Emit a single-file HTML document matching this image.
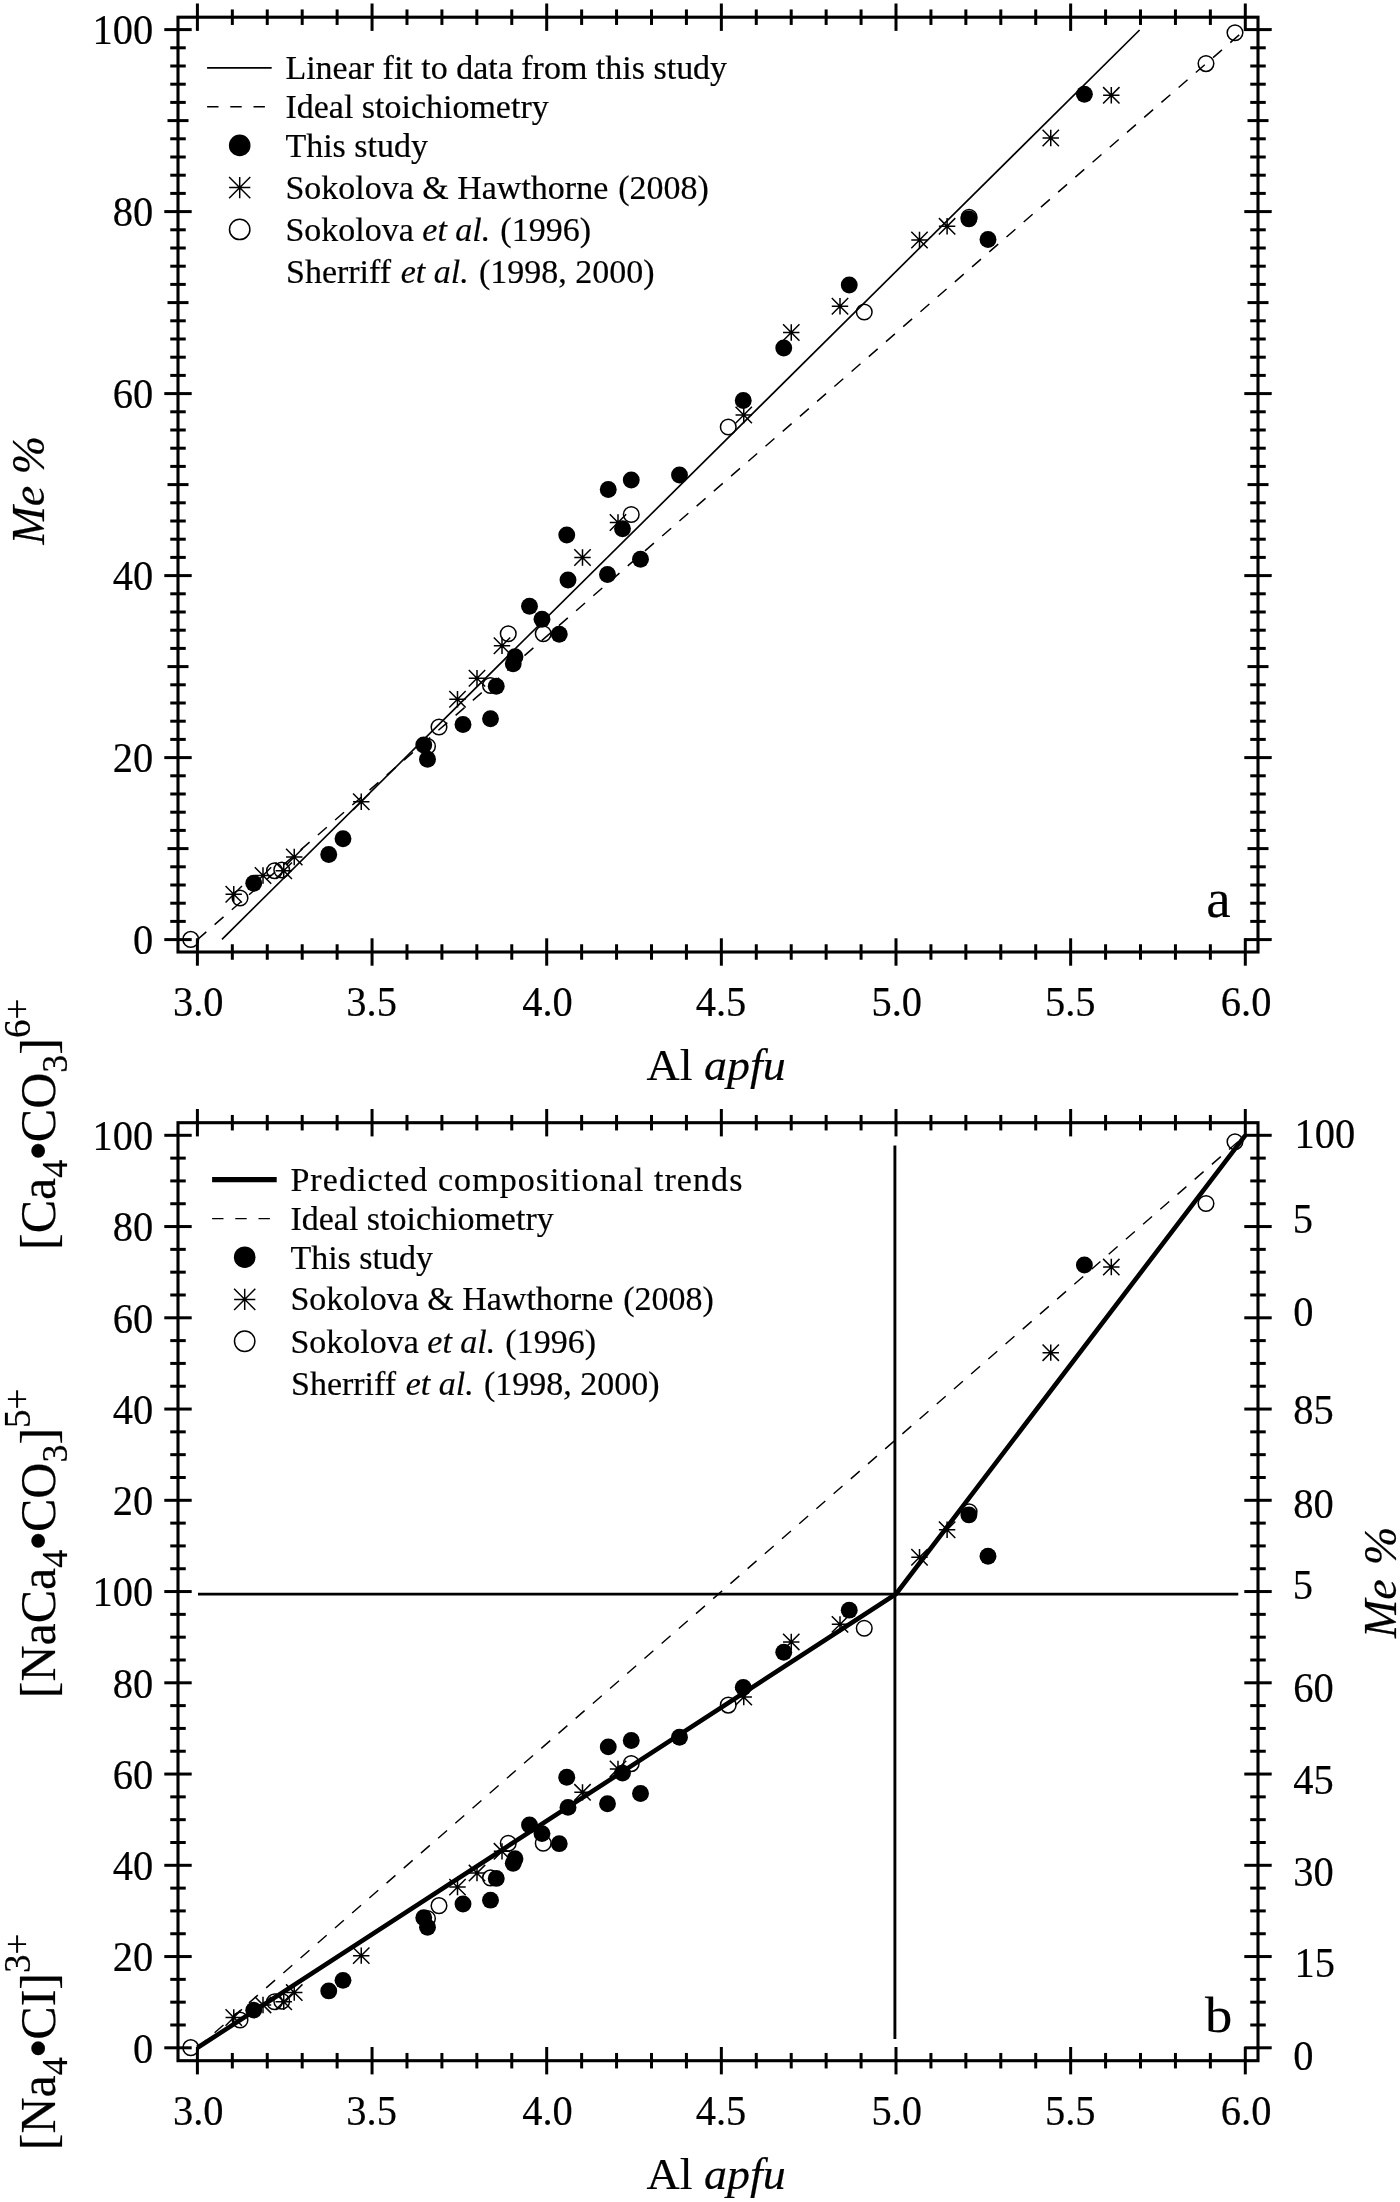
<!DOCTYPE html>
<html><head><meta charset="utf-8"><title>Me % vs Al apfu</title>
<style>
html,body{margin:0;padding:0;background:#fff;}
body{width:1400px;height:2202px;overflow:hidden;font-family:"Liberation Serif",serif;}
svg{display:block;will-change:transform;}
svg text{font-family:"Liberation Serif",serif;fill:#000;stroke:#000;stroke-width:0.2px;stroke-linejoin:round;}
</style></head><body>
<svg width="1400" height="2202" viewBox="0 0 1400 2202" stroke="#000" stroke-linecap="butt">
<rect x="178.0" y="17.2" width="1080.0" height="934.8" fill="none" stroke-width="3.1"/>
<line x1="197.40" y1="3.50" x2="197.40" y2="30.90" stroke-width="3.0" />
<line x1="197.40" y1="938.30" x2="197.40" y2="965.70" stroke-width="3.0" />
<line x1="232.33" y1="9.45" x2="232.33" y2="24.95" stroke-width="3.0" />
<line x1="232.33" y1="944.25" x2="232.33" y2="959.75" stroke-width="3.0" />
<line x1="267.26" y1="9.45" x2="267.26" y2="24.95" stroke-width="3.0" />
<line x1="267.26" y1="944.25" x2="267.26" y2="959.75" stroke-width="3.0" />
<line x1="302.19" y1="9.45" x2="302.19" y2="24.95" stroke-width="3.0" />
<line x1="302.19" y1="944.25" x2="302.19" y2="959.75" stroke-width="3.0" />
<line x1="337.12" y1="9.45" x2="337.12" y2="24.95" stroke-width="3.0" />
<line x1="337.12" y1="944.25" x2="337.12" y2="959.75" stroke-width="3.0" />
<line x1="372.05" y1="3.50" x2="372.05" y2="30.90" stroke-width="3.0" />
<line x1="372.05" y1="938.30" x2="372.05" y2="965.70" stroke-width="3.0" />
<line x1="406.98" y1="9.45" x2="406.98" y2="24.95" stroke-width="3.0" />
<line x1="406.98" y1="944.25" x2="406.98" y2="959.75" stroke-width="3.0" />
<line x1="441.91" y1="9.45" x2="441.91" y2="24.95" stroke-width="3.0" />
<line x1="441.91" y1="944.25" x2="441.91" y2="959.75" stroke-width="3.0" />
<line x1="476.84" y1="9.45" x2="476.84" y2="24.95" stroke-width="3.0" />
<line x1="476.84" y1="944.25" x2="476.84" y2="959.75" stroke-width="3.0" />
<line x1="511.77" y1="9.45" x2="511.77" y2="24.95" stroke-width="3.0" />
<line x1="511.77" y1="944.25" x2="511.77" y2="959.75" stroke-width="3.0" />
<line x1="546.70" y1="3.50" x2="546.70" y2="30.90" stroke-width="3.0" />
<line x1="546.70" y1="938.30" x2="546.70" y2="965.70" stroke-width="3.0" />
<line x1="581.63" y1="9.45" x2="581.63" y2="24.95" stroke-width="3.0" />
<line x1="581.63" y1="944.25" x2="581.63" y2="959.75" stroke-width="3.0" />
<line x1="616.56" y1="9.45" x2="616.56" y2="24.95" stroke-width="3.0" />
<line x1="616.56" y1="944.25" x2="616.56" y2="959.75" stroke-width="3.0" />
<line x1="651.49" y1="9.45" x2="651.49" y2="24.95" stroke-width="3.0" />
<line x1="651.49" y1="944.25" x2="651.49" y2="959.75" stroke-width="3.0" />
<line x1="686.42" y1="9.45" x2="686.42" y2="24.95" stroke-width="3.0" />
<line x1="686.42" y1="944.25" x2="686.42" y2="959.75" stroke-width="3.0" />
<line x1="721.35" y1="3.50" x2="721.35" y2="30.90" stroke-width="3.0" />
<line x1="721.35" y1="938.30" x2="721.35" y2="965.70" stroke-width="3.0" />
<line x1="756.28" y1="9.45" x2="756.28" y2="24.95" stroke-width="3.0" />
<line x1="756.28" y1="944.25" x2="756.28" y2="959.75" stroke-width="3.0" />
<line x1="791.21" y1="9.45" x2="791.21" y2="24.95" stroke-width="3.0" />
<line x1="791.21" y1="944.25" x2="791.21" y2="959.75" stroke-width="3.0" />
<line x1="826.14" y1="9.45" x2="826.14" y2="24.95" stroke-width="3.0" />
<line x1="826.14" y1="944.25" x2="826.14" y2="959.75" stroke-width="3.0" />
<line x1="861.07" y1="9.45" x2="861.07" y2="24.95" stroke-width="3.0" />
<line x1="861.07" y1="944.25" x2="861.07" y2="959.75" stroke-width="3.0" />
<line x1="896.00" y1="3.50" x2="896.00" y2="30.90" stroke-width="3.0" />
<line x1="896.00" y1="938.30" x2="896.00" y2="965.70" stroke-width="3.0" />
<line x1="930.93" y1="9.45" x2="930.93" y2="24.95" stroke-width="3.0" />
<line x1="930.93" y1="944.25" x2="930.93" y2="959.75" stroke-width="3.0" />
<line x1="965.86" y1="9.45" x2="965.86" y2="24.95" stroke-width="3.0" />
<line x1="965.86" y1="944.25" x2="965.86" y2="959.75" stroke-width="3.0" />
<line x1="1000.79" y1="9.45" x2="1000.79" y2="24.95" stroke-width="3.0" />
<line x1="1000.79" y1="944.25" x2="1000.79" y2="959.75" stroke-width="3.0" />
<line x1="1035.72" y1="9.45" x2="1035.72" y2="24.95" stroke-width="3.0" />
<line x1="1035.72" y1="944.25" x2="1035.72" y2="959.75" stroke-width="3.0" />
<line x1="1070.65" y1="3.50" x2="1070.65" y2="30.90" stroke-width="3.0" />
<line x1="1070.65" y1="938.30" x2="1070.65" y2="965.70" stroke-width="3.0" />
<line x1="1105.58" y1="9.45" x2="1105.58" y2="24.95" stroke-width="3.0" />
<line x1="1105.58" y1="944.25" x2="1105.58" y2="959.75" stroke-width="3.0" />
<line x1="1140.51" y1="9.45" x2="1140.51" y2="24.95" stroke-width="3.0" />
<line x1="1140.51" y1="944.25" x2="1140.51" y2="959.75" stroke-width="3.0" />
<line x1="1175.44" y1="9.45" x2="1175.44" y2="24.95" stroke-width="3.0" />
<line x1="1175.44" y1="944.25" x2="1175.44" y2="959.75" stroke-width="3.0" />
<line x1="1210.37" y1="9.45" x2="1210.37" y2="24.95" stroke-width="3.0" />
<line x1="1210.37" y1="944.25" x2="1210.37" y2="959.75" stroke-width="3.0" />
<line x1="1245.30" y1="3.50" x2="1245.30" y2="30.90" stroke-width="3.0" />
<line x1="1245.30" y1="938.30" x2="1245.30" y2="965.70" stroke-width="3.0" />
<line x1="164.30" y1="939.60" x2="191.70" y2="939.60" stroke-width="3.0" />
<line x1="1244.30" y1="939.60" x2="1271.70" y2="939.60" stroke-width="3.0" />
<line x1="170.25" y1="921.40" x2="185.75" y2="921.40" stroke-width="3.0" />
<line x1="1250.25" y1="921.40" x2="1265.75" y2="921.40" stroke-width="3.0" />
<line x1="170.25" y1="903.20" x2="185.75" y2="903.20" stroke-width="3.0" />
<line x1="1250.25" y1="903.20" x2="1265.75" y2="903.20" stroke-width="3.0" />
<line x1="170.25" y1="885.00" x2="185.75" y2="885.00" stroke-width="3.0" />
<line x1="1250.25" y1="885.00" x2="1265.75" y2="885.00" stroke-width="3.0" />
<line x1="170.25" y1="866.80" x2="185.75" y2="866.80" stroke-width="3.0" />
<line x1="1250.25" y1="866.80" x2="1265.75" y2="866.80" stroke-width="3.0" />
<line x1="167.50" y1="848.60" x2="188.50" y2="848.60" stroke-width="3.0" />
<line x1="1247.50" y1="848.60" x2="1268.50" y2="848.60" stroke-width="3.0" />
<line x1="170.25" y1="830.40" x2="185.75" y2="830.40" stroke-width="3.0" />
<line x1="1250.25" y1="830.40" x2="1265.75" y2="830.40" stroke-width="3.0" />
<line x1="170.25" y1="812.20" x2="185.75" y2="812.20" stroke-width="3.0" />
<line x1="1250.25" y1="812.20" x2="1265.75" y2="812.20" stroke-width="3.0" />
<line x1="170.25" y1="794.00" x2="185.75" y2="794.00" stroke-width="3.0" />
<line x1="1250.25" y1="794.00" x2="1265.75" y2="794.00" stroke-width="3.0" />
<line x1="170.25" y1="775.80" x2="185.75" y2="775.80" stroke-width="3.0" />
<line x1="1250.25" y1="775.80" x2="1265.75" y2="775.80" stroke-width="3.0" />
<line x1="164.30" y1="757.60" x2="191.70" y2="757.60" stroke-width="3.0" />
<line x1="1244.30" y1="757.60" x2="1271.70" y2="757.60" stroke-width="3.0" />
<line x1="170.25" y1="739.40" x2="185.75" y2="739.40" stroke-width="3.0" />
<line x1="1250.25" y1="739.40" x2="1265.75" y2="739.40" stroke-width="3.0" />
<line x1="170.25" y1="721.20" x2="185.75" y2="721.20" stroke-width="3.0" />
<line x1="1250.25" y1="721.20" x2="1265.75" y2="721.20" stroke-width="3.0" />
<line x1="170.25" y1="703.00" x2="185.75" y2="703.00" stroke-width="3.0" />
<line x1="1250.25" y1="703.00" x2="1265.75" y2="703.00" stroke-width="3.0" />
<line x1="170.25" y1="684.80" x2="185.75" y2="684.80" stroke-width="3.0" />
<line x1="1250.25" y1="684.80" x2="1265.75" y2="684.80" stroke-width="3.0" />
<line x1="167.50" y1="666.60" x2="188.50" y2="666.60" stroke-width="3.0" />
<line x1="1247.50" y1="666.60" x2="1268.50" y2="666.60" stroke-width="3.0" />
<line x1="170.25" y1="648.40" x2="185.75" y2="648.40" stroke-width="3.0" />
<line x1="1250.25" y1="648.40" x2="1265.75" y2="648.40" stroke-width="3.0" />
<line x1="170.25" y1="630.20" x2="185.75" y2="630.20" stroke-width="3.0" />
<line x1="1250.25" y1="630.20" x2="1265.75" y2="630.20" stroke-width="3.0" />
<line x1="170.25" y1="612.00" x2="185.75" y2="612.00" stroke-width="3.0" />
<line x1="1250.25" y1="612.00" x2="1265.75" y2="612.00" stroke-width="3.0" />
<line x1="170.25" y1="593.80" x2="185.75" y2="593.80" stroke-width="3.0" />
<line x1="1250.25" y1="593.80" x2="1265.75" y2="593.80" stroke-width="3.0" />
<line x1="164.30" y1="575.60" x2="191.70" y2="575.60" stroke-width="3.0" />
<line x1="1244.30" y1="575.60" x2="1271.70" y2="575.60" stroke-width="3.0" />
<line x1="170.25" y1="557.40" x2="185.75" y2="557.40" stroke-width="3.0" />
<line x1="1250.25" y1="557.40" x2="1265.75" y2="557.40" stroke-width="3.0" />
<line x1="170.25" y1="539.20" x2="185.75" y2="539.20" stroke-width="3.0" />
<line x1="1250.25" y1="539.20" x2="1265.75" y2="539.20" stroke-width="3.0" />
<line x1="170.25" y1="521.00" x2="185.75" y2="521.00" stroke-width="3.0" />
<line x1="1250.25" y1="521.00" x2="1265.75" y2="521.00" stroke-width="3.0" />
<line x1="170.25" y1="502.80" x2="185.75" y2="502.80" stroke-width="3.0" />
<line x1="1250.25" y1="502.80" x2="1265.75" y2="502.80" stroke-width="3.0" />
<line x1="167.50" y1="484.60" x2="188.50" y2="484.60" stroke-width="3.0" />
<line x1="1247.50" y1="484.60" x2="1268.50" y2="484.60" stroke-width="3.0" />
<line x1="170.25" y1="466.40" x2="185.75" y2="466.40" stroke-width="3.0" />
<line x1="1250.25" y1="466.40" x2="1265.75" y2="466.40" stroke-width="3.0" />
<line x1="170.25" y1="448.20" x2="185.75" y2="448.20" stroke-width="3.0" />
<line x1="1250.25" y1="448.20" x2="1265.75" y2="448.20" stroke-width="3.0" />
<line x1="170.25" y1="430.00" x2="185.75" y2="430.00" stroke-width="3.0" />
<line x1="1250.25" y1="430.00" x2="1265.75" y2="430.00" stroke-width="3.0" />
<line x1="170.25" y1="411.80" x2="185.75" y2="411.80" stroke-width="3.0" />
<line x1="1250.25" y1="411.80" x2="1265.75" y2="411.80" stroke-width="3.0" />
<line x1="164.30" y1="393.60" x2="191.70" y2="393.60" stroke-width="3.0" />
<line x1="1244.30" y1="393.60" x2="1271.70" y2="393.60" stroke-width="3.0" />
<line x1="170.25" y1="375.40" x2="185.75" y2="375.40" stroke-width="3.0" />
<line x1="1250.25" y1="375.40" x2="1265.75" y2="375.40" stroke-width="3.0" />
<line x1="170.25" y1="357.20" x2="185.75" y2="357.20" stroke-width="3.0" />
<line x1="1250.25" y1="357.20" x2="1265.75" y2="357.20" stroke-width="3.0" />
<line x1="170.25" y1="339.00" x2="185.75" y2="339.00" stroke-width="3.0" />
<line x1="1250.25" y1="339.00" x2="1265.75" y2="339.00" stroke-width="3.0" />
<line x1="170.25" y1="320.80" x2="185.75" y2="320.80" stroke-width="3.0" />
<line x1="1250.25" y1="320.80" x2="1265.75" y2="320.80" stroke-width="3.0" />
<line x1="167.50" y1="302.60" x2="188.50" y2="302.60" stroke-width="3.0" />
<line x1="1247.50" y1="302.60" x2="1268.50" y2="302.60" stroke-width="3.0" />
<line x1="170.25" y1="284.40" x2="185.75" y2="284.40" stroke-width="3.0" />
<line x1="1250.25" y1="284.40" x2="1265.75" y2="284.40" stroke-width="3.0" />
<line x1="170.25" y1="266.20" x2="185.75" y2="266.20" stroke-width="3.0" />
<line x1="1250.25" y1="266.20" x2="1265.75" y2="266.20" stroke-width="3.0" />
<line x1="170.25" y1="248.00" x2="185.75" y2="248.00" stroke-width="3.0" />
<line x1="1250.25" y1="248.00" x2="1265.75" y2="248.00" stroke-width="3.0" />
<line x1="170.25" y1="229.80" x2="185.75" y2="229.80" stroke-width="3.0" />
<line x1="1250.25" y1="229.80" x2="1265.75" y2="229.80" stroke-width="3.0" />
<line x1="164.30" y1="211.60" x2="191.70" y2="211.60" stroke-width="3.0" />
<line x1="1244.30" y1="211.60" x2="1271.70" y2="211.60" stroke-width="3.0" />
<line x1="170.25" y1="193.40" x2="185.75" y2="193.40" stroke-width="3.0" />
<line x1="1250.25" y1="193.40" x2="1265.75" y2="193.40" stroke-width="3.0" />
<line x1="170.25" y1="175.20" x2="185.75" y2="175.20" stroke-width="3.0" />
<line x1="1250.25" y1="175.20" x2="1265.75" y2="175.20" stroke-width="3.0" />
<line x1="170.25" y1="157.00" x2="185.75" y2="157.00" stroke-width="3.0" />
<line x1="1250.25" y1="157.00" x2="1265.75" y2="157.00" stroke-width="3.0" />
<line x1="170.25" y1="138.80" x2="185.75" y2="138.80" stroke-width="3.0" />
<line x1="1250.25" y1="138.80" x2="1265.75" y2="138.80" stroke-width="3.0" />
<line x1="167.50" y1="120.60" x2="188.50" y2="120.60" stroke-width="3.0" />
<line x1="1247.50" y1="120.60" x2="1268.50" y2="120.60" stroke-width="3.0" />
<line x1="170.25" y1="102.40" x2="185.75" y2="102.40" stroke-width="3.0" />
<line x1="1250.25" y1="102.40" x2="1265.75" y2="102.40" stroke-width="3.0" />
<line x1="170.25" y1="84.20" x2="185.75" y2="84.20" stroke-width="3.0" />
<line x1="1250.25" y1="84.20" x2="1265.75" y2="84.20" stroke-width="3.0" />
<line x1="170.25" y1="66.00" x2="185.75" y2="66.00" stroke-width="3.0" />
<line x1="1250.25" y1="66.00" x2="1265.75" y2="66.00" stroke-width="3.0" />
<line x1="170.25" y1="47.80" x2="185.75" y2="47.80" stroke-width="3.0" />
<line x1="1250.25" y1="47.80" x2="1265.75" y2="47.80" stroke-width="3.0" />
<line x1="164.30" y1="29.60" x2="191.70" y2="29.60" stroke-width="3.0" />
<line x1="1244.30" y1="29.60" x2="1271.70" y2="29.60" stroke-width="3.0" />
<text transform="translate(153.20,954.40) scale(1,1.045)" font-size="40.5" text-anchor="end" >0</text>
<text transform="translate(153.20,772.40) scale(1,1.045)" font-size="40.5" text-anchor="end" >20</text>
<text transform="translate(153.20,590.40) scale(1,1.045)" font-size="40.5" text-anchor="end" >40</text>
<text transform="translate(153.20,408.40) scale(1,1.045)" font-size="40.5" text-anchor="end" >60</text>
<text transform="translate(153.20,226.40) scale(1,1.045)" font-size="40.5" text-anchor="end" >80</text>
<text transform="translate(153.20,44.40) scale(1,1.045)" font-size="40.5" text-anchor="end" >100</text>
<text transform="translate(198.20,1015.80) scale(1,1.045)" font-size="40.5" text-anchor="middle" >3.0</text>
<text transform="translate(371.65,1015.80) scale(1,1.045)" font-size="40.5" text-anchor="middle" >3.5</text>
<text transform="translate(547.50,1015.80) scale(1,1.045)" font-size="40.5" text-anchor="middle" >4.0</text>
<text transform="translate(720.95,1015.80) scale(1,1.045)" font-size="40.5" text-anchor="middle" >4.5</text>
<text transform="translate(896.80,1015.80) scale(1,1.045)" font-size="40.5" text-anchor="middle" >5.0</text>
<text transform="translate(1070.25,1015.80) scale(1,1.045)" font-size="40.5" text-anchor="middle" >5.5</text>
<text transform="translate(1246.10,1015.80) scale(1,1.045)" font-size="40.5" text-anchor="middle" >6.0</text>
<line x1="222.00" y1="939.40" x2="1139.60" y2="30.00" stroke-width="1.65" />
<line x1="197.40" y1="939.60" x2="1245.30" y2="29.60" stroke-width="1.5" stroke-dasharray="11.8 11" stroke-dashoffset="0"/>
<circle cx="190.75" cy="939.40" r="7.8" fill="none" stroke-width="1.5"/>
<circle cx="240.00" cy="898.00" r="7.8" fill="none" stroke-width="1.5"/>
<circle cx="274.50" cy="870.75" r="7.8" fill="none" stroke-width="1.5"/>
<circle cx="281.75" cy="870.00" r="7.8" fill="none" stroke-width="1.5"/>
<circle cx="427.50" cy="746.25" r="7.8" fill="none" stroke-width="1.5"/>
<circle cx="439.00" cy="727.00" r="7.8" fill="none" stroke-width="1.5"/>
<circle cx="490.50" cy="685.50" r="7.8" fill="none" stroke-width="1.5"/>
<circle cx="508.25" cy="633.75" r="7.8" fill="none" stroke-width="1.5"/>
<circle cx="543.25" cy="633.75" r="7.8" fill="none" stroke-width="1.5"/>
<circle cx="631.25" cy="514.50" r="7.8" fill="none" stroke-width="1.5"/>
<circle cx="728.25" cy="427.00" r="7.8" fill="none" stroke-width="1.5"/>
<circle cx="864.25" cy="312.00" r="7.8" fill="none" stroke-width="1.5"/>
<circle cx="969.10" cy="217.30" r="7.8" fill="none" stroke-width="1.5"/>
<circle cx="1206.00" cy="63.60" r="7.8" fill="none" stroke-width="1.5"/>
<circle cx="1235.00" cy="32.80" r="7.8" fill="none" stroke-width="1.5"/>
<circle cx="253.75" cy="883.25" r="8.45" fill="#000" stroke="none"/>
<circle cx="328.75" cy="854.50" r="8.45" fill="#000" stroke="none"/>
<circle cx="343.00" cy="838.75" r="8.45" fill="#000" stroke="none"/>
<circle cx="423.75" cy="745.00" r="8.45" fill="#000" stroke="none"/>
<circle cx="427.50" cy="759.25" r="8.45" fill="#000" stroke="none"/>
<circle cx="463.00" cy="724.50" r="8.45" fill="#000" stroke="none"/>
<circle cx="490.50" cy="718.75" r="8.45" fill="#000" stroke="none"/>
<circle cx="496.25" cy="686.25" r="8.45" fill="#000" stroke="none"/>
<circle cx="513.25" cy="663.75" r="8.45" fill="#000" stroke="none"/>
<circle cx="515.00" cy="656.75" r="8.45" fill="#000" stroke="none"/>
<circle cx="559.25" cy="634.25" r="8.45" fill="#000" stroke="none"/>
<circle cx="542.00" cy="619.25" r="8.45" fill="#000" stroke="none"/>
<circle cx="529.50" cy="606.25" r="8.45" fill="#000" stroke="none"/>
<circle cx="568.00" cy="580.00" r="8.45" fill="#000" stroke="none"/>
<circle cx="607.50" cy="574.50" r="8.45" fill="#000" stroke="none"/>
<circle cx="640.50" cy="559.25" r="8.45" fill="#000" stroke="none"/>
<circle cx="566.75" cy="535.00" r="8.45" fill="#000" stroke="none"/>
<circle cx="622.50" cy="528.75" r="8.45" fill="#000" stroke="none"/>
<circle cx="608.25" cy="489.50" r="8.45" fill="#000" stroke="none"/>
<circle cx="631.25" cy="480.00" r="8.45" fill="#000" stroke="none"/>
<circle cx="679.50" cy="475.00" r="8.45" fill="#000" stroke="none"/>
<circle cx="743.25" cy="400.50" r="8.45" fill="#000" stroke="none"/>
<circle cx="783.75" cy="348.00" r="8.45" fill="#000" stroke="none"/>
<circle cx="849.25" cy="285.00" r="8.45" fill="#000" stroke="none"/>
<circle cx="968.90" cy="218.90" r="8.45" fill="#000" stroke="none"/>
<circle cx="988.00" cy="239.50" r="8.45" fill="#000" stroke="none"/>
<circle cx="1084.40" cy="94.30" r="8.45" fill="#000" stroke="none"/>
<path d="M225.55 894.25H241.95M233.75 886.05V902.45M225.55 886.05L241.95 902.45M225.55 902.45L241.95 886.05" fill="none" stroke-width="1.5"/>
<path d="M254.80 875.50H271.20M263.00 867.30V883.70M254.80 867.30L271.20 883.70M254.80 883.70L271.20 867.30" fill="none" stroke-width="1.5"/>
<path d="M275.55 870.75H291.95M283.75 862.55V878.95M275.55 862.55L291.95 878.95M275.55 878.95L291.95 862.55" fill="none" stroke-width="1.5"/>
<path d="M286.05 857.00H302.45M294.25 848.80V865.20M286.05 848.80L302.45 865.20M286.05 865.20L302.45 848.80" fill="none" stroke-width="1.5"/>
<path d="M353.05 801.75H369.45M361.25 793.55V809.95M353.05 793.55L369.45 809.95M353.05 809.95L369.45 793.55" fill="none" stroke-width="1.5"/>
<path d="M449.30 699.25H465.70M457.50 691.05V707.45M449.30 691.05L465.70 707.45M449.30 707.45L465.70 691.05" fill="none" stroke-width="1.5"/>
<path d="M468.80 678.25H485.20M477.00 670.05V686.45M468.80 670.05L485.20 686.45M468.80 686.45L485.20 670.05" fill="none" stroke-width="1.5"/>
<path d="M493.80 645.75H510.20M502.00 637.55V653.95M493.80 637.55L510.20 653.95M493.80 653.95L510.20 637.55" fill="none" stroke-width="1.5"/>
<path d="M574.30 557.50H590.70M582.50 549.30V565.70M574.30 549.30L590.70 565.70M574.30 565.70L590.70 549.30" fill="none" stroke-width="1.5"/>
<path d="M609.80 522.50H626.20M618.00 514.30V530.70M609.80 514.30L626.20 530.70M609.80 530.70L626.20 514.30" fill="none" stroke-width="1.5"/>
<path d="M735.55 415.00H751.95M743.75 406.80V423.20M735.55 406.80L751.95 423.20M735.55 423.20L751.95 406.80" fill="none" stroke-width="1.5"/>
<path d="M783.05 332.50H799.45M791.25 324.30V340.70M783.05 324.30L799.45 340.70M783.05 340.70L799.45 324.30" fill="none" stroke-width="1.5"/>
<path d="M831.80 306.25H848.20M840.00 298.05V314.45M831.80 298.05L848.20 314.45M831.80 314.45L848.20 298.05" fill="none" stroke-width="1.5"/>
<path d="M911.30 240.00H927.70M919.50 231.80V248.20M911.30 231.80L927.70 248.20M911.30 248.20L927.70 231.80" fill="none" stroke-width="1.5"/>
<path d="M938.90 226.30H955.30M947.10 218.10V234.50M938.90 218.10L955.30 234.50M938.90 234.50L955.30 218.10" fill="none" stroke-width="1.5"/>
<path d="M1042.55 138.00H1058.95M1050.75 129.80V146.20M1042.55 129.80L1058.95 146.20M1042.55 146.20L1058.95 129.80" fill="none" stroke-width="1.5"/>
<path d="M1103.10 95.30H1119.50M1111.30 87.10V103.50M1103.10 87.10L1119.50 103.50M1103.10 103.50L1119.50 87.10" fill="none" stroke-width="1.5"/>
<line x1="207.10" y1="67.90" x2="271.70" y2="67.90" stroke-width="1.6" />
<line x1="207.10" y1="106.80" x2="272.00" y2="106.80" stroke-width="1.55" stroke-dasharray="11.4 11.8"/>
<circle cx="239.70" cy="145.40" r="10.8" fill="#000" stroke="none"/>
<path d="M229.10 187.60H250.30M239.70 177.00V198.20M229.10 177.00L250.30 198.20M229.10 198.20L250.30 177.00" fill="none" stroke-width="1.5"/>
<circle cx="239.70" cy="229.40" r="10.2" fill="none" stroke-width="1.5"/>
<text transform="translate(285.40,79.00) scale(1,0.96)" font-size="34" text-anchor="start" >Linear fit to data from this study</text>
<text transform="translate(285.40,118.00) scale(1,0.96)" font-size="34" text-anchor="start" >Ideal stoichiometry</text>
<text transform="translate(285.40,156.80) scale(1,0.96)" font-size="34" text-anchor="start" >This study</text>
<text transform="translate(285.40,198.50) scale(1,0.96)" font-size="34" text-anchor="start" >Sokolova &amp; Hawthorne <tspan dx="1.6">(2008)</tspan></text>
<text transform="translate(285.40,240.70) scale(1,0.96)" font-size="34" text-anchor="start" >Sokolova <tspan font-style="italic">et al.</tspan> <tspan dx="1.6">(1996)</tspan></text>
<text transform="translate(286.00,282.80) scale(1,0.96)" font-size="34" text-anchor="start" >Sherriff <tspan font-style="italic" dx="1.2">et al.</tspan> <tspan dx="1.8">(1998, 2000)</tspan></text>
<text x="1206.20" y="916.60" font-size="55" text-anchor="start" >a</text>
<text transform="translate(44.2,544.5) rotate(-90)" font-size="46" font-style="italic">Me %</text>
<text transform="translate(646.50,1079.90) scale(1,0.96)" font-size="46" text-anchor="start" >Al <tspan font-style="italic">apfu</tspan></text>
<rect x="178.0" y="1122.7" width="1080.0" height="937.9999999999998" fill="none" stroke-width="3.1"/>
<line x1="197.40" y1="1109.00" x2="197.40" y2="1136.40" stroke-width="3.0" />
<line x1="197.40" y1="2047.00" x2="197.40" y2="2074.40" stroke-width="3.0" />
<line x1="232.33" y1="1114.95" x2="232.33" y2="1130.45" stroke-width="3.0" />
<line x1="232.33" y1="2052.95" x2="232.33" y2="2068.45" stroke-width="3.0" />
<line x1="267.26" y1="1114.95" x2="267.26" y2="1130.45" stroke-width="3.0" />
<line x1="267.26" y1="2052.95" x2="267.26" y2="2068.45" stroke-width="3.0" />
<line x1="302.19" y1="1114.95" x2="302.19" y2="1130.45" stroke-width="3.0" />
<line x1="302.19" y1="2052.95" x2="302.19" y2="2068.45" stroke-width="3.0" />
<line x1="337.12" y1="1114.95" x2="337.12" y2="1130.45" stroke-width="3.0" />
<line x1="337.12" y1="2052.95" x2="337.12" y2="2068.45" stroke-width="3.0" />
<line x1="372.05" y1="1109.00" x2="372.05" y2="1136.40" stroke-width="3.0" />
<line x1="372.05" y1="2047.00" x2="372.05" y2="2074.40" stroke-width="3.0" />
<line x1="406.98" y1="1114.95" x2="406.98" y2="1130.45" stroke-width="3.0" />
<line x1="406.98" y1="2052.95" x2="406.98" y2="2068.45" stroke-width="3.0" />
<line x1="441.91" y1="1114.95" x2="441.91" y2="1130.45" stroke-width="3.0" />
<line x1="441.91" y1="2052.95" x2="441.91" y2="2068.45" stroke-width="3.0" />
<line x1="476.84" y1="1114.95" x2="476.84" y2="1130.45" stroke-width="3.0" />
<line x1="476.84" y1="2052.95" x2="476.84" y2="2068.45" stroke-width="3.0" />
<line x1="511.77" y1="1114.95" x2="511.77" y2="1130.45" stroke-width="3.0" />
<line x1="511.77" y1="2052.95" x2="511.77" y2="2068.45" stroke-width="3.0" />
<line x1="546.70" y1="1109.00" x2="546.70" y2="1136.40" stroke-width="3.0" />
<line x1="546.70" y1="2047.00" x2="546.70" y2="2074.40" stroke-width="3.0" />
<line x1="581.63" y1="1114.95" x2="581.63" y2="1130.45" stroke-width="3.0" />
<line x1="581.63" y1="2052.95" x2="581.63" y2="2068.45" stroke-width="3.0" />
<line x1="616.56" y1="1114.95" x2="616.56" y2="1130.45" stroke-width="3.0" />
<line x1="616.56" y1="2052.95" x2="616.56" y2="2068.45" stroke-width="3.0" />
<line x1="651.49" y1="1114.95" x2="651.49" y2="1130.45" stroke-width="3.0" />
<line x1="651.49" y1="2052.95" x2="651.49" y2="2068.45" stroke-width="3.0" />
<line x1="686.42" y1="1114.95" x2="686.42" y2="1130.45" stroke-width="3.0" />
<line x1="686.42" y1="2052.95" x2="686.42" y2="2068.45" stroke-width="3.0" />
<line x1="721.35" y1="1109.00" x2="721.35" y2="1136.40" stroke-width="3.0" />
<line x1="721.35" y1="2047.00" x2="721.35" y2="2074.40" stroke-width="3.0" />
<line x1="756.28" y1="1114.95" x2="756.28" y2="1130.45" stroke-width="3.0" />
<line x1="756.28" y1="2052.95" x2="756.28" y2="2068.45" stroke-width="3.0" />
<line x1="791.21" y1="1114.95" x2="791.21" y2="1130.45" stroke-width="3.0" />
<line x1="791.21" y1="2052.95" x2="791.21" y2="2068.45" stroke-width="3.0" />
<line x1="826.14" y1="1114.95" x2="826.14" y2="1130.45" stroke-width="3.0" />
<line x1="826.14" y1="2052.95" x2="826.14" y2="2068.45" stroke-width="3.0" />
<line x1="861.07" y1="1114.95" x2="861.07" y2="1130.45" stroke-width="3.0" />
<line x1="861.07" y1="2052.95" x2="861.07" y2="2068.45" stroke-width="3.0" />
<line x1="896.00" y1="1109.00" x2="896.00" y2="1136.40" stroke-width="3.0" />
<line x1="896.00" y1="2047.00" x2="896.00" y2="2074.40" stroke-width="3.0" />
<line x1="930.93" y1="1114.95" x2="930.93" y2="1130.45" stroke-width="3.0" />
<line x1="930.93" y1="2052.95" x2="930.93" y2="2068.45" stroke-width="3.0" />
<line x1="965.86" y1="1114.95" x2="965.86" y2="1130.45" stroke-width="3.0" />
<line x1="965.86" y1="2052.95" x2="965.86" y2="2068.45" stroke-width="3.0" />
<line x1="1000.79" y1="1114.95" x2="1000.79" y2="1130.45" stroke-width="3.0" />
<line x1="1000.79" y1="2052.95" x2="1000.79" y2="2068.45" stroke-width="3.0" />
<line x1="1035.72" y1="1114.95" x2="1035.72" y2="1130.45" stroke-width="3.0" />
<line x1="1035.72" y1="2052.95" x2="1035.72" y2="2068.45" stroke-width="3.0" />
<line x1="1070.65" y1="1109.00" x2="1070.65" y2="1136.40" stroke-width="3.0" />
<line x1="1070.65" y1="2047.00" x2="1070.65" y2="2074.40" stroke-width="3.0" />
<line x1="1105.58" y1="1114.95" x2="1105.58" y2="1130.45" stroke-width="3.0" />
<line x1="1105.58" y1="2052.95" x2="1105.58" y2="2068.45" stroke-width="3.0" />
<line x1="1140.51" y1="1114.95" x2="1140.51" y2="1130.45" stroke-width="3.0" />
<line x1="1140.51" y1="2052.95" x2="1140.51" y2="2068.45" stroke-width="3.0" />
<line x1="1175.44" y1="1114.95" x2="1175.44" y2="1130.45" stroke-width="3.0" />
<line x1="1175.44" y1="2052.95" x2="1175.44" y2="2068.45" stroke-width="3.0" />
<line x1="1210.37" y1="1114.95" x2="1210.37" y2="1130.45" stroke-width="3.0" />
<line x1="1210.37" y1="2052.95" x2="1210.37" y2="2068.45" stroke-width="3.0" />
<line x1="1245.30" y1="1109.00" x2="1245.30" y2="1136.40" stroke-width="3.0" />
<line x1="1245.30" y1="2047.00" x2="1245.30" y2="2074.40" stroke-width="3.0" />
<line x1="164.30" y1="2047.80" x2="191.70" y2="2047.80" stroke-width="3.0" />
<line x1="1244.30" y1="2047.80" x2="1271.70" y2="2047.80" stroke-width="3.0" />
<line x1="170.25" y1="2024.99" x2="185.75" y2="2024.99" stroke-width="3.0" />
<line x1="1250.25" y1="2024.99" x2="1265.75" y2="2024.99" stroke-width="3.0" />
<line x1="170.25" y1="2002.17" x2="185.75" y2="2002.17" stroke-width="3.0" />
<line x1="1250.25" y1="2002.17" x2="1265.75" y2="2002.17" stroke-width="3.0" />
<line x1="170.25" y1="1979.36" x2="185.75" y2="1979.36" stroke-width="3.0" />
<line x1="1250.25" y1="1979.36" x2="1265.75" y2="1979.36" stroke-width="3.0" />
<line x1="164.30" y1="1956.55" x2="191.70" y2="1956.55" stroke-width="3.0" />
<line x1="1244.30" y1="1956.55" x2="1271.70" y2="1956.55" stroke-width="3.0" />
<line x1="170.25" y1="1933.74" x2="185.75" y2="1933.74" stroke-width="3.0" />
<line x1="1250.25" y1="1933.74" x2="1265.75" y2="1933.74" stroke-width="3.0" />
<line x1="170.25" y1="1910.92" x2="185.75" y2="1910.92" stroke-width="3.0" />
<line x1="1250.25" y1="1910.92" x2="1265.75" y2="1910.92" stroke-width="3.0" />
<line x1="170.25" y1="1888.11" x2="185.75" y2="1888.11" stroke-width="3.0" />
<line x1="1250.25" y1="1888.11" x2="1265.75" y2="1888.11" stroke-width="3.0" />
<line x1="164.30" y1="1865.30" x2="191.70" y2="1865.30" stroke-width="3.0" />
<line x1="1244.30" y1="1865.30" x2="1271.70" y2="1865.30" stroke-width="3.0" />
<line x1="170.25" y1="1842.49" x2="185.75" y2="1842.49" stroke-width="3.0" />
<line x1="1250.25" y1="1842.49" x2="1265.75" y2="1842.49" stroke-width="3.0" />
<line x1="170.25" y1="1819.67" x2="185.75" y2="1819.67" stroke-width="3.0" />
<line x1="1250.25" y1="1819.67" x2="1265.75" y2="1819.67" stroke-width="3.0" />
<line x1="170.25" y1="1796.86" x2="185.75" y2="1796.86" stroke-width="3.0" />
<line x1="1250.25" y1="1796.86" x2="1265.75" y2="1796.86" stroke-width="3.0" />
<line x1="164.30" y1="1774.05" x2="191.70" y2="1774.05" stroke-width="3.0" />
<line x1="1244.30" y1="1774.05" x2="1271.70" y2="1774.05" stroke-width="3.0" />
<line x1="170.25" y1="1751.24" x2="185.75" y2="1751.24" stroke-width="3.0" />
<line x1="1250.25" y1="1751.24" x2="1265.75" y2="1751.24" stroke-width="3.0" />
<line x1="170.25" y1="1728.42" x2="185.75" y2="1728.42" stroke-width="3.0" />
<line x1="1250.25" y1="1728.42" x2="1265.75" y2="1728.42" stroke-width="3.0" />
<line x1="170.25" y1="1705.61" x2="185.75" y2="1705.61" stroke-width="3.0" />
<line x1="1250.25" y1="1705.61" x2="1265.75" y2="1705.61" stroke-width="3.0" />
<line x1="164.30" y1="1682.80" x2="191.70" y2="1682.80" stroke-width="3.0" />
<line x1="1244.30" y1="1682.80" x2="1271.70" y2="1682.80" stroke-width="3.0" />
<line x1="170.25" y1="1659.99" x2="185.75" y2="1659.99" stroke-width="3.0" />
<line x1="1250.25" y1="1659.99" x2="1265.75" y2="1659.99" stroke-width="3.0" />
<line x1="170.25" y1="1637.17" x2="185.75" y2="1637.17" stroke-width="3.0" />
<line x1="1250.25" y1="1637.17" x2="1265.75" y2="1637.17" stroke-width="3.0" />
<line x1="170.25" y1="1614.36" x2="185.75" y2="1614.36" stroke-width="3.0" />
<line x1="1250.25" y1="1614.36" x2="1265.75" y2="1614.36" stroke-width="3.0" />
<line x1="164.30" y1="1591.55" x2="191.70" y2="1591.55" stroke-width="3.0" />
<line x1="1244.30" y1="1591.55" x2="1271.70" y2="1591.55" stroke-width="3.0" />
<line x1="170.25" y1="1568.74" x2="185.75" y2="1568.74" stroke-width="3.0" />
<line x1="1250.25" y1="1568.74" x2="1265.75" y2="1568.74" stroke-width="3.0" />
<line x1="170.25" y1="1545.92" x2="185.75" y2="1545.92" stroke-width="3.0" />
<line x1="1250.25" y1="1545.92" x2="1265.75" y2="1545.92" stroke-width="3.0" />
<line x1="170.25" y1="1523.11" x2="185.75" y2="1523.11" stroke-width="3.0" />
<line x1="1250.25" y1="1523.11" x2="1265.75" y2="1523.11" stroke-width="3.0" />
<line x1="164.30" y1="1500.30" x2="191.70" y2="1500.30" stroke-width="3.0" />
<line x1="1244.30" y1="1500.30" x2="1271.70" y2="1500.30" stroke-width="3.0" />
<line x1="170.25" y1="1477.49" x2="185.75" y2="1477.49" stroke-width="3.0" />
<line x1="1250.25" y1="1477.49" x2="1265.75" y2="1477.49" stroke-width="3.0" />
<line x1="170.25" y1="1454.67" x2="185.75" y2="1454.67" stroke-width="3.0" />
<line x1="1250.25" y1="1454.67" x2="1265.75" y2="1454.67" stroke-width="3.0" />
<line x1="170.25" y1="1431.86" x2="185.75" y2="1431.86" stroke-width="3.0" />
<line x1="1250.25" y1="1431.86" x2="1265.75" y2="1431.86" stroke-width="3.0" />
<line x1="164.30" y1="1409.05" x2="191.70" y2="1409.05" stroke-width="3.0" />
<line x1="1244.30" y1="1409.05" x2="1271.70" y2="1409.05" stroke-width="3.0" />
<line x1="170.25" y1="1386.24" x2="185.75" y2="1386.24" stroke-width="3.0" />
<line x1="1250.25" y1="1386.24" x2="1265.75" y2="1386.24" stroke-width="3.0" />
<line x1="170.25" y1="1363.42" x2="185.75" y2="1363.42" stroke-width="3.0" />
<line x1="1250.25" y1="1363.42" x2="1265.75" y2="1363.42" stroke-width="3.0" />
<line x1="170.25" y1="1340.61" x2="185.75" y2="1340.61" stroke-width="3.0" />
<line x1="1250.25" y1="1340.61" x2="1265.75" y2="1340.61" stroke-width="3.0" />
<line x1="164.30" y1="1317.80" x2="191.70" y2="1317.80" stroke-width="3.0" />
<line x1="1244.30" y1="1317.80" x2="1271.70" y2="1317.80" stroke-width="3.0" />
<line x1="170.25" y1="1294.99" x2="185.75" y2="1294.99" stroke-width="3.0" />
<line x1="1250.25" y1="1294.99" x2="1265.75" y2="1294.99" stroke-width="3.0" />
<line x1="170.25" y1="1272.17" x2="185.75" y2="1272.17" stroke-width="3.0" />
<line x1="1250.25" y1="1272.17" x2="1265.75" y2="1272.17" stroke-width="3.0" />
<line x1="170.25" y1="1249.36" x2="185.75" y2="1249.36" stroke-width="3.0" />
<line x1="1250.25" y1="1249.36" x2="1265.75" y2="1249.36" stroke-width="3.0" />
<line x1="164.30" y1="1226.55" x2="191.70" y2="1226.55" stroke-width="3.0" />
<line x1="1244.30" y1="1226.55" x2="1271.70" y2="1226.55" stroke-width="3.0" />
<line x1="170.25" y1="1203.74" x2="185.75" y2="1203.74" stroke-width="3.0" />
<line x1="1250.25" y1="1203.74" x2="1265.75" y2="1203.74" stroke-width="3.0" />
<line x1="170.25" y1="1180.92" x2="185.75" y2="1180.92" stroke-width="3.0" />
<line x1="1250.25" y1="1180.92" x2="1265.75" y2="1180.92" stroke-width="3.0" />
<line x1="170.25" y1="1158.11" x2="185.75" y2="1158.11" stroke-width="3.0" />
<line x1="1250.25" y1="1158.11" x2="1265.75" y2="1158.11" stroke-width="3.0" />
<line x1="164.30" y1="1135.30" x2="191.70" y2="1135.30" stroke-width="3.0" />
<line x1="1244.30" y1="1135.30" x2="1271.70" y2="1135.30" stroke-width="3.0" />
<text transform="translate(153.20,2062.60) scale(1,1.045)" font-size="40.5" text-anchor="end" >0</text>
<text transform="translate(1293.20,2069.50) scale(1,1.045)" font-size="40.5" text-anchor="start" >0</text>
<text transform="translate(153.20,1971.35) scale(1,1.045)" font-size="40.5" text-anchor="end" >20</text>
<text transform="translate(1294.50,1977.30) scale(1,1.045)" font-size="40.5" text-anchor="start" >15</text>
<text transform="translate(153.20,1880.10) scale(1,1.045)" font-size="40.5" text-anchor="end" >40</text>
<text transform="translate(1293.20,1885.70) scale(1,1.045)" font-size="40.5" text-anchor="start" >30</text>
<text transform="translate(153.20,1788.85) scale(1,1.045)" font-size="40.5" text-anchor="end" >60</text>
<text transform="translate(1293.20,1793.50) scale(1,1.045)" font-size="40.5" text-anchor="start" >45</text>
<text transform="translate(153.20,1697.60) scale(1,1.045)" font-size="40.5" text-anchor="end" >80</text>
<text transform="translate(1293.20,1701.80) scale(1,1.045)" font-size="40.5" text-anchor="start" >60</text>
<text transform="translate(153.20,1606.35) scale(1,1.045)" font-size="40.5" text-anchor="end" >100</text>
<text transform="translate(1292.70,1599.20) scale(1,1.045)" font-size="40.5" text-anchor="start" >5</text>
<text transform="translate(153.20,1515.10) scale(1,1.045)" font-size="40.5" text-anchor="end" >20</text>
<text transform="translate(1293.20,1517.90) scale(1,1.045)" font-size="40.5" text-anchor="start" >80</text>
<text transform="translate(153.20,1423.85) scale(1,1.045)" font-size="40.5" text-anchor="end" >40</text>
<text transform="translate(1293.20,1424.00) scale(1,1.045)" font-size="40.5" text-anchor="start" >85</text>
<text transform="translate(153.20,1332.60) scale(1,1.045)" font-size="40.5" text-anchor="end" >60</text>
<text transform="translate(1293.20,1325.50) scale(1,1.045)" font-size="40.5" text-anchor="start" >0</text>
<text transform="translate(153.20,1241.35) scale(1,1.045)" font-size="40.5" text-anchor="end" >80</text>
<text transform="translate(1292.70,1232.70) scale(1,1.045)" font-size="40.5" text-anchor="start" >5</text>
<text transform="translate(153.20,1150.10) scale(1,1.045)" font-size="40.5" text-anchor="end" >100</text>
<text transform="translate(1294.50,1148.30) scale(1,1.045)" font-size="40.5" text-anchor="start" >100</text>
<text transform="translate(198.20,2124.80) scale(1,1.045)" font-size="40.5" text-anchor="middle" >3.0</text>
<text transform="translate(371.65,2124.80) scale(1,1.045)" font-size="40.5" text-anchor="middle" >3.5</text>
<text transform="translate(547.50,2124.80) scale(1,1.045)" font-size="40.5" text-anchor="middle" >4.0</text>
<text transform="translate(720.95,2124.80) scale(1,1.045)" font-size="40.5" text-anchor="middle" >4.5</text>
<text transform="translate(896.80,2124.80) scale(1,1.045)" font-size="40.5" text-anchor="middle" >5.0</text>
<text transform="translate(1070.25,2124.80) scale(1,1.045)" font-size="40.5" text-anchor="middle" >5.5</text>
<text transform="translate(1246.10,2124.80) scale(1,1.045)" font-size="40.5" text-anchor="middle" >6.0</text>
<line x1="198.00" y1="1594.10" x2="1238.30" y2="1594.10" stroke-width="2.9" />
<line x1="894.90" y1="1145.40" x2="894.90" y2="2039.00" stroke-width="2.9" />
<line x1="197.40" y1="2047.80" x2="1245.30" y2="1135.30" stroke-width="1.45" stroke-dasharray="11.8 11"/>
<circle cx="190.75" cy="2047.67" r="7.8" fill="none" stroke-width="1.5"/>
<circle cx="240.00" cy="2019.99" r="7.8" fill="none" stroke-width="1.5"/>
<circle cx="274.50" cy="2001.77" r="7.8" fill="none" stroke-width="1.5"/>
<circle cx="281.75" cy="2001.27" r="7.8" fill="none" stroke-width="1.5"/>
<circle cx="427.50" cy="1918.53" r="7.8" fill="none" stroke-width="1.5"/>
<circle cx="439.00" cy="1905.66" r="7.8" fill="none" stroke-width="1.5"/>
<circle cx="490.50" cy="1877.92" r="7.8" fill="none" stroke-width="1.5"/>
<circle cx="508.25" cy="1843.32" r="7.8" fill="none" stroke-width="1.5"/>
<circle cx="543.25" cy="1843.32" r="7.8" fill="none" stroke-width="1.5"/>
<circle cx="631.25" cy="1763.59" r="7.8" fill="none" stroke-width="1.5"/>
<circle cx="728.25" cy="1705.09" r="7.8" fill="none" stroke-width="1.5"/>
<circle cx="864.25" cy="1628.20" r="7.8" fill="none" stroke-width="1.5"/>
<circle cx="969.10" cy="1511.69" r="7.8" fill="none" stroke-width="1.5"/>
<circle cx="1206.00" cy="1203.48" r="7.8" fill="none" stroke-width="1.5"/>
<circle cx="1235.00" cy="1141.72" r="7.8" fill="none" stroke-width="1.5"/>
<circle cx="253.75" cy="2010.13" r="8.45" fill="#000" stroke="none"/>
<circle cx="328.75" cy="1990.90" r="8.45" fill="#000" stroke="none"/>
<circle cx="343.00" cy="1980.37" r="8.45" fill="#000" stroke="none"/>
<circle cx="423.75" cy="1917.70" r="8.45" fill="#000" stroke="none"/>
<circle cx="427.50" cy="1927.22" r="8.45" fill="#000" stroke="none"/>
<circle cx="463.00" cy="1903.99" r="8.45" fill="#000" stroke="none"/>
<circle cx="490.50" cy="1900.15" r="8.45" fill="#000" stroke="none"/>
<circle cx="496.25" cy="1878.42" r="8.45" fill="#000" stroke="none"/>
<circle cx="513.25" cy="1863.37" r="8.45" fill="#000" stroke="none"/>
<circle cx="515.00" cy="1858.69" r="8.45" fill="#000" stroke="none"/>
<circle cx="559.25" cy="1843.65" r="8.45" fill="#000" stroke="none"/>
<circle cx="542.00" cy="1833.62" r="8.45" fill="#000" stroke="none"/>
<circle cx="529.50" cy="1824.93" r="8.45" fill="#000" stroke="none"/>
<circle cx="568.00" cy="1807.38" r="8.45" fill="#000" stroke="none"/>
<circle cx="607.50" cy="1803.70" r="8.45" fill="#000" stroke="none"/>
<circle cx="640.50" cy="1793.51" r="8.45" fill="#000" stroke="none"/>
<circle cx="566.75" cy="1777.30" r="8.45" fill="#000" stroke="none"/>
<circle cx="622.50" cy="1773.12" r="8.45" fill="#000" stroke="none"/>
<circle cx="608.25" cy="1746.88" r="8.45" fill="#000" stroke="none"/>
<circle cx="631.25" cy="1740.52" r="8.45" fill="#000" stroke="none"/>
<circle cx="679.50" cy="1737.18" r="8.45" fill="#000" stroke="none"/>
<circle cx="743.25" cy="1687.37" r="8.45" fill="#000" stroke="none"/>
<circle cx="783.75" cy="1652.27" r="8.45" fill="#000" stroke="none"/>
<circle cx="849.25" cy="1610.15" r="8.45" fill="#000" stroke="none"/>
<circle cx="968.90" cy="1514.90" r="8.45" fill="#000" stroke="none"/>
<circle cx="988.00" cy="1556.21" r="8.45" fill="#000" stroke="none"/>
<circle cx="1084.40" cy="1265.04" r="8.45" fill="#000" stroke="none"/>
<path d="M225.55 2017.48H241.95M233.75 2009.28V2025.68M225.55 2009.28L241.95 2025.68M225.55 2025.68L241.95 2009.28" fill="none" stroke-width="1.5"/>
<path d="M254.80 2004.94H271.20M263.00 1996.74V2013.14M254.80 1996.74L271.20 2013.14M254.80 2013.14L271.20 1996.74" fill="none" stroke-width="1.5"/>
<path d="M275.55 2001.77H291.95M283.75 1993.57V2009.97M275.55 1993.57L291.95 2009.97M275.55 2009.97L291.95 1993.57" fill="none" stroke-width="1.5"/>
<path d="M286.05 1992.58H302.45M294.25 1984.38V2000.78M286.05 1984.38L302.45 2000.78M286.05 2000.78L302.45 1984.38" fill="none" stroke-width="1.5"/>
<path d="M353.05 1955.64H369.45M361.25 1947.44V1963.84M353.05 1947.44L369.45 1963.84M353.05 1963.84L369.45 1947.44" fill="none" stroke-width="1.5"/>
<path d="M449.30 1887.11H465.70M457.50 1878.91V1895.31M449.30 1878.91L465.70 1895.31M449.30 1895.31L465.70 1878.91" fill="none" stroke-width="1.5"/>
<path d="M468.80 1873.07H485.20M477.00 1864.87V1881.27M468.80 1864.87L485.20 1881.27M468.80 1881.27L485.20 1864.87" fill="none" stroke-width="1.5"/>
<path d="M493.80 1851.34H510.20M502.00 1843.14V1859.54M493.80 1843.14L510.20 1859.54M493.80 1859.54L510.20 1843.14" fill="none" stroke-width="1.5"/>
<path d="M574.30 1792.34H590.70M582.50 1784.14V1800.54M574.30 1784.14L590.70 1800.54M574.30 1800.54L590.70 1784.14" fill="none" stroke-width="1.5"/>
<path d="M609.80 1768.94H626.20M618.00 1760.74V1777.14M609.80 1760.74L626.20 1777.14M609.80 1777.14L626.20 1760.74" fill="none" stroke-width="1.5"/>
<path d="M735.55 1697.07H751.95M743.75 1688.87V1705.27M735.55 1688.87L751.95 1705.27M735.55 1705.27L751.95 1688.87" fill="none" stroke-width="1.5"/>
<path d="M783.05 1641.91H799.45M791.25 1633.71V1650.11M783.05 1633.71L799.45 1650.11M783.05 1650.11L799.45 1633.71" fill="none" stroke-width="1.5"/>
<path d="M831.80 1624.36H848.20M840.00 1616.16V1632.56M831.80 1616.16L848.20 1632.56M831.80 1632.56L848.20 1616.16" fill="none" stroke-width="1.5"/>
<path d="M911.30 1557.21H927.70M919.50 1549.01V1565.41M911.30 1549.01L927.70 1565.41M911.30 1565.41L927.70 1549.01" fill="none" stroke-width="1.5"/>
<path d="M938.90 1529.74H955.30M947.10 1521.54V1537.94M938.90 1521.54L955.30 1537.94M938.90 1537.94L955.30 1521.54" fill="none" stroke-width="1.5"/>
<path d="M1042.55 1352.67H1058.95M1050.75 1344.47V1360.87M1042.55 1344.47L1058.95 1360.87M1042.55 1360.87L1058.95 1344.47" fill="none" stroke-width="1.5"/>
<path d="M1103.10 1267.05H1119.50M1111.30 1258.85V1275.25M1103.10 1258.85L1119.50 1275.25M1103.10 1275.25L1119.50 1258.85" fill="none" stroke-width="1.5"/>
<polyline points="197.40,2047.80 896,1594 1245.30,1135.30" fill="none" stroke-width="4.6" stroke-linejoin="miter"/>
<line x1="212.10" y1="1179.70" x2="276.70" y2="1179.70" stroke-width="5.2" />
<line x1="212.10" y1="1218.60" x2="277.00" y2="1218.60" stroke-width="1.25" stroke-dasharray="11.4 11.8"/>
<circle cx="244.70" cy="1257.20" r="10.8" fill="#000" stroke="none"/>
<path d="M234.10 1299.40H255.30M244.70 1288.80V1310.00M234.10 1288.80L255.30 1310.00M234.10 1310.00L255.30 1288.80" fill="none" stroke-width="1.5"/>
<circle cx="244.70" cy="1341.20" r="10.2" fill="none" stroke-width="1.5"/>
<text transform="translate(290.40,1190.80) scale(1,0.96)" font-size="34" text-anchor="start" letter-spacing="1.07">Predicted compositional trends</text>
<text transform="translate(290.40,1229.80) scale(1,0.96)" font-size="34" text-anchor="start" >Ideal stoichiometry</text>
<text transform="translate(290.40,1268.60) scale(1,0.96)" font-size="34" text-anchor="start" >This study</text>
<text transform="translate(290.40,1310.30) scale(1,0.96)" font-size="34" text-anchor="start" >Sokolova &amp; Hawthorne <tspan dx="1.6">(2008)</tspan></text>
<text transform="translate(290.40,1352.50) scale(1,0.96)" font-size="34" text-anchor="start" >Sokolova <tspan font-style="italic">et al.</tspan> <tspan dx="1.6">(1996)</tspan></text>
<text transform="translate(291.00,1394.60) scale(1,0.96)" font-size="34" text-anchor="start" >Sherriff <tspan font-style="italic" dx="1.2">et al.</tspan> <tspan dx="1.8">(1998, 2000)</tspan></text>
<text transform="translate(1205.10,2032.40) scale(1,0.92)" font-size="54.5" text-anchor="start" >b</text>
<text transform="translate(646.50,2189.30) scale(1,0.96)" font-size="46" text-anchor="start" >Al <tspan font-style="italic">apfu</tspan></text>
<text transform="translate(1395.6,1638) rotate(-90)" font-size="46" font-style="italic">Me <tspan dx="2.8">%</tspan></text>
<text transform="translate(55.3,1250) rotate(-90)" font-size="50"><tspan font-size="50">[Ca</tspan><tspan dy="11.50" font-size="36">4</tspan><tspan dy="-9.90" dx="-1.3" font-size="58">•</tspan><tspan dx="-1.4" font-size="1">&#8203;</tspan><tspan dy="-1.60" font-size="50">CO</tspan><tspan dy="11.50" font-size="36">3</tspan><tspan dy="-11.50" font-size="50">]</tspan><tspan dy="-25.00" font-size="37">6+</tspan></text>
<text transform="translate(55.3,1698.2) rotate(-90)" font-size="50"><tspan font-size="50">[NaCa</tspan><tspan dy="11.50" font-size="36">4</tspan><tspan dy="-9.90" dx="-1.3" font-size="58">•</tspan><tspan dx="-1.4" font-size="1">&#8203;</tspan><tspan dy="-1.60" font-size="50">CO</tspan><tspan dy="11.50" font-size="36">3</tspan><tspan dy="-11.50" font-size="50">]</tspan><tspan dy="-25.00" font-size="37">5+</tspan></text>
<text transform="translate(55.3,2150.2) rotate(-90)" font-size="50"><tspan font-size="50">[Na</tspan><tspan dy="11.50" font-size="36">4</tspan><tspan dy="-9.90" dx="-1.3" font-size="58">•</tspan><tspan dx="-1.4" font-size="1">&#8203;</tspan><tspan dy="-1.60" font-size="50">CI]</tspan><tspan dy="-25.00" font-size="37">3+</tspan></text>
</svg>
</body></html>
